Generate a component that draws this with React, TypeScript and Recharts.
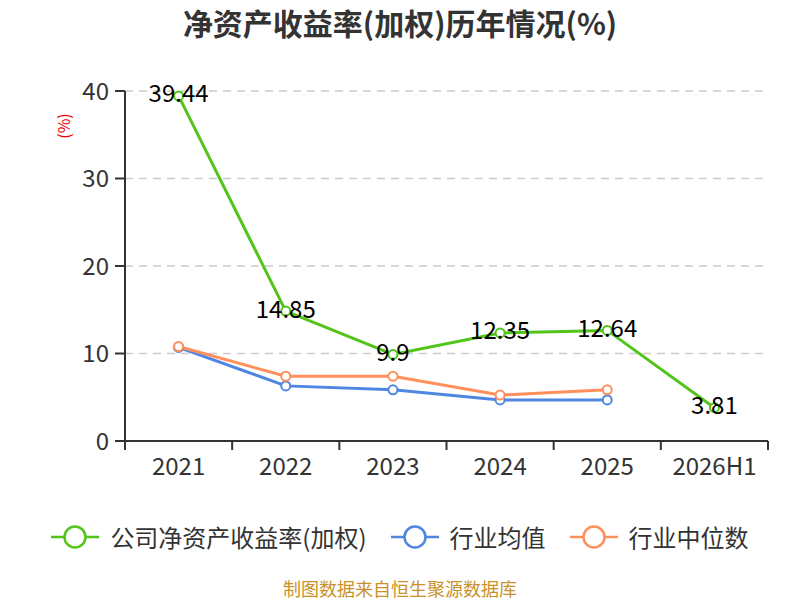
import React from "react";
import { LineChart, Line, XAxis, YAxis, CartesianGrid, Label } from "recharts";

// 数据
const years = ["2021", "2022", "2023", "2024", "2025", "2026H1"];
const companyRoe = [39.44, 14.85, 9.9, 12.35, 12.64, 3.81];
const industryMean = [10.7, 6.3, 5.85, 4.7, 4.7, null];
const industryMedian = [10.8, 7.4, 7.4, 5.25, 5.85, null];
const yTicks = [0, 10, 20, 30, 40];

const seriesNames = ["公司净资产收益率(加权)", "行业均值", "行业中位数"];
const seriesColors = ["#52c41a", "#4e86e2", "#ff8f5b"];

const data = years.map((year, i) => ({
  year,
  company: companyRoe[i],
  mean: industryMean[i],
  median: industryMedian[i],
}));

const FONT = '"Noto Sans CJK SC", "Noto Sans", sans-serif';
const PLOT_WIDTH = 800 - 125 - 32;
const AXIS_Y = 441;

function XTick(props: any) {
  const { x, payload, index } = props;
  const half = payload.offset || PLOT_WIDTH / years.length / 2;
  return (
    <g>
      <line x1={x - half} y1={AXIS_Y} x2={x - half} y2={AXIS_Y + 9} stroke="#333" strokeWidth={2} />
      {index === years.length - 1 && (
        <line x1={x + half} y1={AXIS_Y} x2={x + half} y2={AXIS_Y + 9} stroke="#333" strokeWidth={2} />
      )}
      <text x={x} y={AXIS_Y + 23} textAnchor="middle" dominantBaseline="central" fill="#333" fontSize={24} fontFamily={FONT}>
        {payload.value}
      </text>
    </g>
  );
}

function ValueLabel(props: any) {
  const { x, y, value } = props;
  if (value == null) return null;
  return (
    <text x={x} y={y - 4} textAnchor="middle" dominantBaseline="central" fill="#000" fontSize={24} fontFamily={FONT}>
      {value}
    </text>
  );
}

function LegendIcon({ color }: { color: string }) {
  return (
    <svg width={48} height={26}>
      <line x1={0} y1={13} x2={48} y2={13} stroke={color} strokeWidth={2.5} />
      <circle cx={24} cy={13} r={10.5} fill="#fff" stroke={color} strokeWidth={2.5} />
    </svg>
  );
}

export default function App() {
  return (
    <div style={{ position: "absolute", left: 0, top: 0, width: 800, height: 600, background: "#fff", fontFamily: FONT }}>
      <div style={{ position: "absolute", top: 0, left: 0, width: 800, textAlign: "center", fontSize: 30, fontWeight: "bold", color: "#333", lineHeight: "44px" }}>
        净资产收益率(加权)历年情况(%)
      </div>
      <LineChart width={800} height={600} data={data} margin={{ top: 91, right: 32, bottom: 129, left: 0 }}>
        <CartesianGrid vertical={false} stroke="#ccc" strokeDasharray="8 6" strokeWidth={1.5} />
        <XAxis dataKey="year" scale="band" height={30} axisLine={{ stroke: "#333", strokeWidth: 2 }} tickLine={false} tick={<XTick />} interval={0} />
        <YAxis
          width={125}
          domain={[0, 40]}
          ticks={yTicks}
          axisLine={{ stroke: "#333", strokeWidth: 2 }}
          tickLine={{ stroke: "#333", strokeWidth: 2 }}
          tickSize={10}
          tickMargin={6}
          tick={{ fill: "#333", fontSize: 24, fontFamily: FONT }}
        >
          <Label
            content={(p: any) => {
              const vb = p.viewBox || { x: 0, y: 91 };
              const cx = vb.x + 63;
              const cy = vb.y + 35;
              return (
                <text x={cx} y={cy} transform={`rotate(-90 ${cx} ${cy})`} textAnchor="middle" dominantBaseline="central" fill="#e00" fontSize={16} fontFamily={FONT}>
                  (%)
                </text>
              );
            }}
          />
        </YAxis>
        <Line
          dataKey="mean"
          stroke={seriesColors[1]}
          strokeWidth={3}
          dot={{ r: 4.5, fill: "#fff", stroke: seriesColors[1], strokeWidth: 2 }}
          isAnimationActive={false}
        />
        <Line
          dataKey="median"
          stroke={seriesColors[2]}
          strokeWidth={3}
          dot={{ r: 4.5, fill: "#fff", stroke: seriesColors[2], strokeWidth: 2 }}
          isAnimationActive={false}
        />
        <Line
          dataKey="company"
          stroke={seriesColors[0]}
          strokeWidth={3}
          dot={{ r: 4.5, fill: "#fff", stroke: seriesColors[0], strokeWidth: 2 }}
          label={<ValueLabel />}
          isAnimationActive={false}
        />
      </LineChart>
      <div style={{ position: "absolute", top: 524, left: 0, width: 800, display: "flex", justifyContent: "center", alignItems: "center", gap: 24 }}>
        {seriesNames.map((name, i) => (
          <div key={name} style={{ display: "flex", alignItems: "center", gap: 11 }}>
            <LegendIcon color={seriesColors[i]} />
            <span style={{ fontSize: 24, color: "#333", lineHeight: "26px" }}>{name}</span>
          </div>
        ))}
      </div>
      <div style={{ position: "absolute", top: 577, left: 0, width: 800, textAlign: "center", fontSize: 18, color: "#c8912a", lineHeight: "22px" }}>
        制图数据来自恒生聚源数据库
      </div>
    </div>
  );
}
